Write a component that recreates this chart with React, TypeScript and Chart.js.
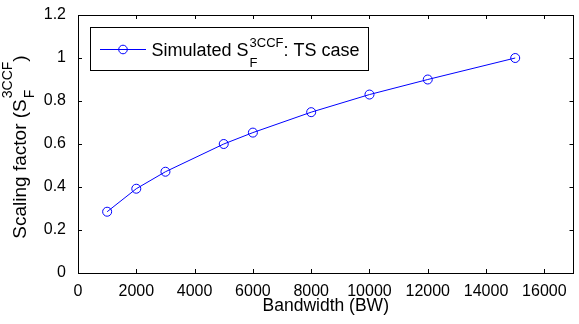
import React, { useEffect, useRef } from "react";
import { Chart, registerables } from "chart.js";

Chart.register(...registerables);

const bandwidth = [1000, 2000, 3000, 5000, 6000, 8000, 10000, 12000, 15000];
const scalingFactor = [0.285, 0.392, 0.471, 0.6, 0.653, 0.748, 0.83, 0.9, 1.0];
const xTickValues = [0, 2000, 4000, 6000, 8000, 10000, 12000, 14000, 16000];
const xTickLabels = ["0", "2000", "4000", "6000", "8000", "10000", "12000", "14000", "16000"];
const yTickValues = [0, 0.2, 0.4, 0.6, 0.8, 1.0, 1.2];
const yTickLabels = ["0", "0.2", "0.4", "0.6", "0.8", "1", "1.2"];
const xTitle = "Bandwidth (BW)";
const yTitleMain = "Scaling factor (S";
const yTitleSup = "3CCF";
const yTitleSub = "F";
const yTitleEnd = ")";
const legendMain = "Simulated S";
const legendSup = "3CCF";
const legendSub = "F";
const legendEnd = ": TS case";

const FONT = "Arial, 'Liberation Sans', sans-serif";
const BLUE = "#0000ff";

const framePlugin = {
  id: "matlabFrame",
  afterDraw(chart: any) {
    const ctx = chart.ctx as CanvasRenderingContext2D;
    const { left, right, top, bottom } = chart.chartArea;
    const xs = chart.scales.x;
    const ys = chart.scales.y;
    ctx.save();
    // box
    ctx.strokeStyle = "#000";
    ctx.lineWidth = 1;
    ctx.strokeRect(Math.round(left) + 0.5, Math.round(top) + 0.5, Math.round(right - left) - 1, Math.round(bottom - top));
    // inward ticks
    const tl = 4;
    ctx.beginPath();
    xTickValues.forEach((v) => {
      const px = Math.round(xs.getPixelForValue(v)) + 0.5;
      ctx.moveTo(px, bottom);
      ctx.lineTo(px, bottom - tl);
      ctx.moveTo(px, top);
      ctx.lineTo(px, top + tl);
    });
    yTickValues.forEach((v) => {
      const py = Math.round(ys.getPixelForValue(v)) + 0.5;
      ctx.moveTo(left, py);
      ctx.lineTo(left + tl, py);
      ctx.moveTo(right, py);
      ctx.lineTo(right - tl, py);
    });
    ctx.stroke();

    // x title
    ctx.fillStyle = "#000";
    ctx.font = `17.5px ${FONT}`;
    ctx.textAlign = "center";
    ctx.textBaseline = "alphabetic";
    ctx.fillText(xTitle, (left + right) / 2, 311);

    // y title (rotated)
    ctx.save();
    ctx.textAlign = "left";
    const yMainFont = `19px ${FONT}`;
    const ySmallFont = `14px ${FONT}`;
    ctx.font = yMainFont;
    const wMain = ctx.measureText(yTitleMain).width;
    const wEnd = ctx.measureText(yTitleEnd).width;
    ctx.font = ySmallFont;
    const wSup = ctx.measureText(yTitleSup).width;
    const wSub = ctx.measureText(yTitleSub).width;
    const total = wMain + Math.max(wSup, wSub) + 1 + wEnd;
    ctx.translate(26, 147);
    ctx.rotate(-Math.PI / 2);
    let x0 = -total / 2;
    ctx.font = yMainFont;
    ctx.fillText(yTitleMain, x0, 0);
    x0 += wMain + 1;
    ctx.font = ySmallFont;
    ctx.fillText(yTitleSup, x0, -14.5);
    ctx.fillText(yTitleSub, x0, 8);
    x0 += Math.max(wSup, wSub);
    ctx.font = yMainFont;
    ctx.fillText(yTitleEnd, x0, 0);
    ctx.restore();

    // legend
    const mainFont = `18px ${FONT}`;
    const smallFont = `13px ${FONT}`;
    ctx.fillStyle = "#fff";
    ctx.fillRect(90.5, 27.5, 278, 43);
    ctx.strokeStyle = "#000";
    ctx.strokeRect(90.5, 27.5, 278, 43);
    ctx.strokeStyle = BLUE;
    ctx.beginPath();
    ctx.moveTo(100, 49.5);
    ctx.lineTo(146, 49.5);
    ctx.stroke();
    ctx.beginPath();
    ctx.arc(123, 49.5, 4.3, 0, Math.PI * 2);
    ctx.stroke();
    ctx.fillStyle = "#000";
    ctx.textAlign = "left";
    let lx = 151.5;
    ctx.font = mainFont;
    ctx.fillText(legendMain, lx, 56);
    lx += ctx.measureText(legendMain).width + 1;
    ctx.font = smallFont;
    ctx.fillText(legendSup, lx, 46.7);
    ctx.fillText(legendSub, lx, 67.3);
    lx += Math.max(ctx.measureText(legendSup).width, ctx.measureText(legendSub).width);
    ctx.font = mainFont;
    ctx.fillText(legendEnd, lx, 56);
    ctx.restore();
  },
};

export default function App() {
  const canvasRef = useRef<HTMLCanvasElement | null>(null);

  useEffect(() => {
    if (!canvasRef.current) return;
    const chart = new Chart(canvasRef.current, {
      type: "line",
      data: {
        datasets: [
          {
            label: "Simulated S_F^3CCF: TS case",
            data: bandwidth.map((b, i) => ({ x: b, y: scalingFactor[i] })),
            borderColor: BLUE,
            borderWidth: 1,
            pointRadius: 4.5,
            pointBorderColor: BLUE,
            pointBackgroundColor: "rgba(0,0,0,0)",
            pointBorderWidth: 1,
            tension: 0,
            fill: false,
          },
        ],
      },
      options: {
        animation: false,
        responsive: true,
        maintainAspectRatio: false,
        layout: { padding: { top: 15, right: 1, left: 0, bottom: 0 } },
        plugins: { legend: { display: false }, tooltip: { enabled: false } },
        events: [],
        scales: {
          x: {
            type: "linear",
            min: 0,
            max: 17000,
            grid: { display: false },
            border: { display: false },
            afterBuildTicks: (scale: any) => {
              scale.ticks = xTickValues.map((v) => ({ value: v }));
            },
            afterFit: (scale: any) => {
              scale.height = 51;
            },
            ticks: {
              autoSkip: false,
              maxRotation: 0,
              padding: 1,
              color: "#000",
              font: { family: FONT, size: 16 },
              callback: (_v: any, i: number) => xTickLabels[i],
            },
          },
          y: {
            type: "linear",
            min: 0,
            max: 1.2,
            grid: { display: false },
            border: { display: false },
            afterBuildTicks: (scale: any) => {
              scale.ticks = yTickValues.map((v) => ({ value: v }));
            },
            afterFit: (scale: any) => {
              scale.width = 78;
            },
            ticks: {
              autoSkip: false,
              padding: 4,
              color: "#000",
              font: { family: FONT, size: 16 },
              callback: (_v: any, i: number) => yTickLabels[i],
            },
          },
        },
      },
      plugins: [framePlugin],
    });
    return () => chart.destroy();
  }, []);

  return (
    <div style={{ position: "fixed", left: 0, top: 0, width: 579, height: 324, background: "#fff" }}>
      <canvas ref={canvasRef} style={{ display: "block" }} />
    </div>
  );
}
